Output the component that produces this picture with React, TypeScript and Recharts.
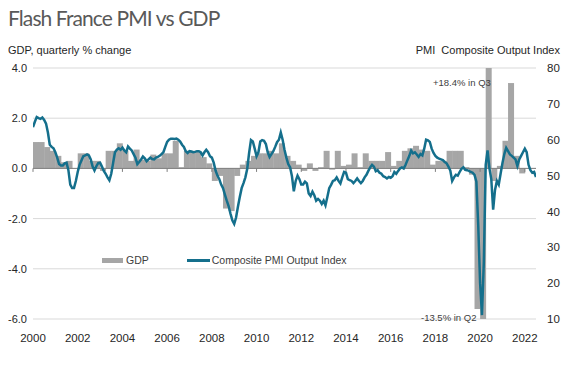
import React from "react";
import {
  ComposedChart,
  Bar,
  Line,
  XAxis,
  YAxis,
  CartesianGrid,
  ReferenceLine,
  Legend,
} from "recharts";

// GDP, quarterly % change (one value per quarter, as drawn left to right)
const gdpQuarterly = [
  1.05, 1.05, 0.85, 0.7, 0.5, 0.25, 0.3, 0.0, 0.6, 0.6, 0.3, 0.3,
  -0.1, 0.7, 0.7, 1.0, 0.7, 0.3, 0.75, 0.35, 0.3, 0.55, 0.4, 0.6,
  0.6, 1.1, 0.05, 0.7, 0.7, 0.65, 0.45, 0.2, -0.5, -0.3, -1.6, -1.7,
  -0.3, 0.15, 0.3, 0.5, 0.6, 0.6, 0.7, 0.6, 1.0, 0.5, 0.3, 0.15,
  -0.1, 0.2, -0.1, 0.05, 0.7, -0.05, 0.7, 0.1, 0.15, 0.6, 0.05, 0.6,
  0.3, 0.3, 0.3, 0.65, 0.1, 0.3, 0.7, 0.8, 0.9, 0.75, 0.7, 0.15,
  0.3, 0.3, 0.7, 0.7, 0.7, 0.05, -0.25, -5.6, -13.5, 18.4, -0.5, 0.1,
  1.1, 3.4, 0.5, -0.2,
];

// Composite PMI Output Index, monthly
const pmiMonthly = [
  63.5, 65, 66.3, 66, 65.8, 66.2, 65.5, 64.5, 62, 58.6, 58, 57.6,
  56.5, 55, 53.2, 52.8, 52.8, 53.4, 53.6, 51.5, 47.5, 46.5, 46.5, 48.5,
  51, 53, 54.2, 55.4, 55.6, 55.9, 55.6, 54.5, 52.5, 51.4, 52.6, 53.5,
  53.6, 52.5, 51.3, 50.5, 49.5, 48.7, 50.5, 53.5, 56.5, 57.2, 57.6, 57.2,
  57.8, 57, 56.5, 58.1, 57.5, 57, 56, 55, 53.2, 53.8, 54.5, 55.3,
  54.8, 54, 54.5, 55, 54.6, 54.5, 55, 55.2, 55.5, 56, 56.5, 58,
  59.4, 60, 60.3, 60.3, 60.2, 60.3, 60, 59.5, 58.6, 58, 56.8, 56.3,
  56.8, 56.7, 56.5, 56.6, 56.8, 56.8, 56.5, 55.6, 56.5, 57.2, 56.5, 55.4,
  55, 53.6, 51.4, 50, 49, 47.5, 46.5, 44.7, 43, 41.5, 39.4, 37.5,
  36.5, 38.3, 41.3, 44, 46.5, 47.9, 49.5, 51.9, 56.3, 59.9, 59.5, 57.5,
  55.4, 56.5, 59.5, 59.9, 59.7, 58.8, 56.5, 55.2, 56, 56.8, 58, 59.3,
  60, 62, 60, 57.2, 55, 53.2, 52.3, 49.8, 45.6, 48.5, 50, 49,
  47.5, 47.5, 48.3, 47.8, 45, 44.3, 45.5, 44.5, 43, 43.5, 43, 42.1,
  43, 41.7, 44, 46.5, 47.4, 48.5, 48.7, 49.5, 48.5, 47.8, 49.5, 51,
  50.8, 49, 48.7, 48.5, 47.9, 48.5, 49.2, 48.5, 47.9, 48.5, 49.5, 50.2,
  51.3, 52.3, 53, 52.5, 51.2, 51.5, 50.8, 50.5, 49.8, 49.6, 49.2, 49.6,
  49.4, 49.8, 51, 50.5, 51.3, 52, 52.3, 52, 53, 54.3, 55.5, 57,
  56.2, 56.5, 55.9, 55.2, 56, 55.6, 57.5, 60, 59.8, 59.4, 57.5, 56.3,
  55.5, 55, 54.7, 54.5, 54.3, 53.8, 53.4, 52.5, 51.4, 48.5, 49.5, 50.2,
  50, 51, 51.9, 52.3, 51.6, 51.5, 51.3, 51, 50.8, 50.2, 48.3, 36,
  20, 11.1, 26, 53, 57, 52, 49, 40.5, 46, 48.5, 47.5, 50.5,
  53.5, 56, 57.7, 56.8, 55.9, 55.5, 55, 54.5, 52.7, 54.5, 55.5, 56.5,
  57.5, 56.5, 53, 51.5, 50.8, 51, 49.6,
];

const yearTicks = [2000, 2002, 2004, 2006, 2008, 2010, 2012, 2014, 2016, 2018, 2020, 2022];
const gdpTicks = [-6, -4, -2, 0, 2, 4];
const pmiTicks = [10, 20, 30, 40, 50, 60, 70, 80];

const startYear = 2000;
const endYear = 2022.5;

const gdpData = gdpQuarterly.map((v, k) => ({ t: startYear + (k + 0.5) / 4, gdp: v }));
const pmiData = pmiMonthly.map((v, i) => ({ t: startYear + i / 12, pmi: v }));

const BAR_COLOR = "#a6a6a6";
const LINE_COLOR = "#146f8c";
const AXIS_COLOR = "#7f7f7f";
const FONT = "'Liberation Sans', Arial, sans-serif";

const tickStyle = { fontSize: 11.5, fill: "#262626", fontFamily: FONT };

const LeftTick = ({ x, y, payload }: any) => (
  <text x={x} y={y} dy={4} textAnchor="end" fontSize={11} fill="#262626" fontFamily={FONT}>
    {Number(payload.value).toFixed(1)}
  </text>
);

const LegendBox = () => (
  <div style={{ display: "flex", alignItems: "center", fontFamily: FONT, fontSize: 10.5, color: "#404040" }}>
    <span style={{ display: "inline-block", width: 21, height: 5, background: BAR_COLOR, marginRight: 3 }} />
    <span style={{ marginRight: 38 }}>GDP</span>
    <span style={{ display: "inline-block", width: 23, height: 3, background: LINE_COLOR, marginRight: 2 }} />
    <span>Composite PMI Output Index</span>
  </div>
);

export default function App() {
  return (
    <div style={{ position: "relative", width: 573, height: 372, margin: -8, background: "#fff", overflow: "hidden" }}>
      <div
        style={{
          position: "absolute",
          left: 8,
          top: 5,
          fontFamily: "Lato, 'Open Sans', sans-serif",
          fontSize: 21,
          letterSpacing: -0.9,
          color: "#595959",
          whiteSpace: "nowrap",
        }}
      >
        Flash France PMI vs GDP
      </div>
      <div style={{ position: "absolute", left: 8, top: 44, fontFamily: FONT, fontSize: 11, color: "#262626" }}>
        GDP, quarterly % change
      </div>
      <div style={{ position: "absolute", right: 13, top: 44, fontFamily: FONT, fontSize: 11, color: "#262626", whiteSpace: "pre" }}>
        {"PMI  Composite Output Index"}
      </div>
      <ComposedChart
        width={573}
        height={372}
        data={gdpData}
        margin={{ top: 68, right: 5, bottom: 11, left: 0 }}
        barCategoryGap={0}
        barGap={0}
      >
        <CartesianGrid yAxisId="left" xAxisId="m" vertical={false} stroke="#d9d9d9" />
        <XAxis
          xAxisId="m"
          type="number"
          dataKey="t"
          domain={[startYear, endYear]}
          ticks={yearTicks}
          allowDataOverflow
          axisLine={false}
          tickLine={false}
          tickSize={0}
          tickMargin={15}
          height={30}
          tick={tickStyle}
          interval={0}
        />
        <XAxis xAxisId="q" type="number" dataKey="t" domain={[startYear, endYear]} hide allowDataOverflow />
        <YAxis
          yAxisId="left"
          orientation="left"
          domain={[-6, 4]}
          ticks={gdpTicks}
          allowDataOverflow
          axisLine={false}
          tickLine={false}
          tickSize={0}
          tickMargin={6}
          width={33}
          tick={<LeftTick />}
          interval={0}
        />
        <YAxis
          yAxisId="right"
          orientation="right"
          domain={[10, 80]}
          ticks={pmiTicks}
          allowDataOverflow
          axisLine={false}
          tickLine={false}
          tickSize={0}
          tickMargin={11}
          width={32}
          tick={tickStyle}
          interval={0}
        />
        <Bar
          xAxisId="q"
          yAxisId="left"
          dataKey="gdp"
          name="GDP"
          fill={BAR_COLOR}
          isAnimationActive={false}
        />
        <ReferenceLine xAxisId="m" yAxisId="left" y={0} stroke={AXIS_COLOR} strokeWidth={1} />
        {yearTicks.map((yr) => (
          <ReferenceLine
            key={yr}
            xAxisId="m"
            yAxisId="left"
            segment={[{ x: yr, y: 0 }, { x: yr, y: -0.14 }]}
            stroke={AXIS_COLOR}
            strokeWidth={1}
          />
        ))}
        <Line
          xAxisId="m"
          yAxisId="right"
          data={pmiData}
          dataKey="pmi"
          name="Composite PMI Output Index"
          type="linear"
          stroke={LINE_COLOR}
          strokeWidth={2.5}
          dot={false}
          isAnimationActive={false}
        />
        <Legend
          content={<LegendBox />}
          wrapperStyle={{ position: "absolute", left: 102, top: 254, width: "auto" }}
        />
      </ComposedChart>
      <div style={{ position: "absolute", left: 433, top: 77, fontFamily: FONT, fontSize: 9.5, color: "#404040" }}>
        +18.4% in Q3
      </div>
      <div style={{ position: "absolute", left: 421, top: 312, fontFamily: FONT, fontSize: 9.5, color: "#404040" }}>
        -13.5% in Q2
      </div>
    </div>
  );
}
